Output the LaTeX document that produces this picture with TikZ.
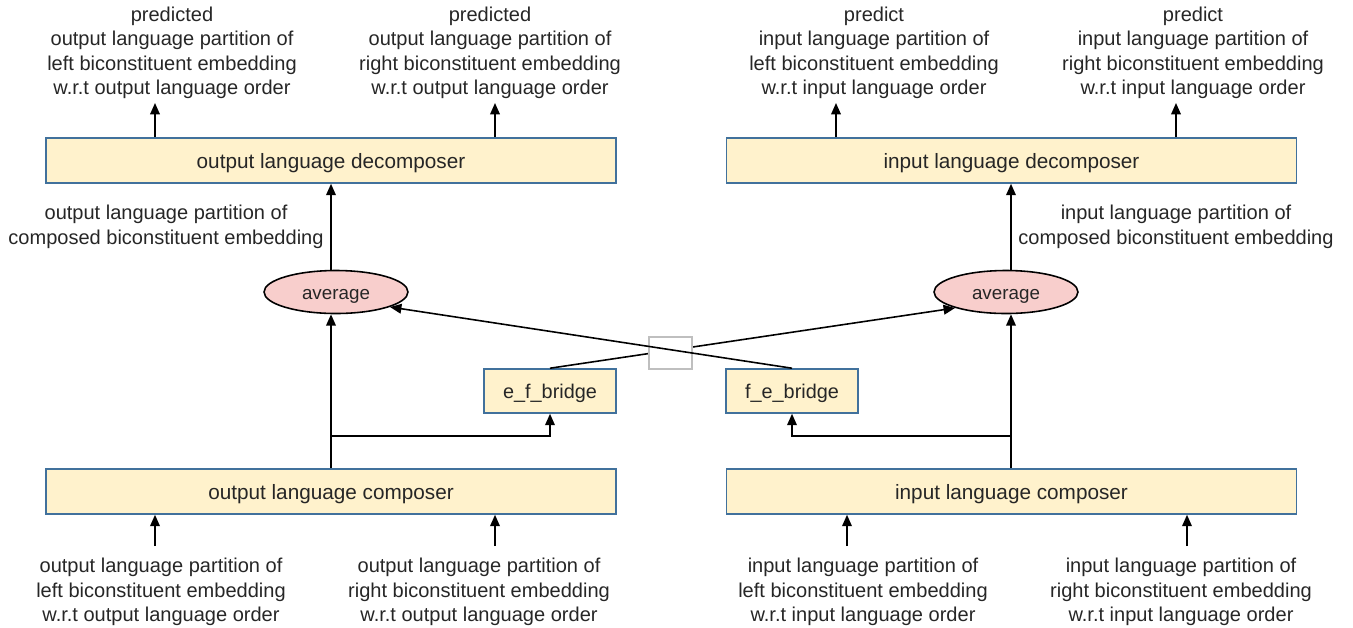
\documentclass[tikz,border=0pt]{standalone}
\usepackage{fontspec}
\setmainfont{Liberation Sans}
\usetikzlibrary{arrows.meta,shapes.geometric}
\definecolor{boxfill}{HTML}{FFF2CC}
\definecolor{boxline}{HTML}{41719C}
\definecolor{avgfill}{HTML}{F8CECC}
\definecolor{txt}{HTML}{262626}
\tikzset{
  module/.style={draw=boxline, fill=boxfill, line width=0.9pt, inner sep=0pt,
    minimum width=11.4cm, minimum height=0.9cm, text=txt, text height=11.5pt, text depth=2.5pt,
    font=\fontsize{11.8}{13}\selectfont},
  bridge/.style={module, minimum width=2.64cm, minimum height=0.88cm, font=\fontsize{11.3}{13}\selectfont},
  avg/.style={ellipse, draw=black, fill=avgfill, line width=0.9pt, inner sep=0pt,
    minimum width=2.88cm, minimum height=0.86cm, text=txt, text height=10pt, text depth=2pt,
    font=\fontsize{10.7}{13}\selectfont},
  lbl/.style={align=center, text=txt, inner sep=0pt, font=\fontsize{11.4}{13.9}\selectfont},
  arr/.style={-{Triangle[length=6.5pt,width=5.5pt]}, line width=0.9pt, black}
}
\begin{document}
\begin{tikzpicture}[x=0.02cm,y=-0.02cm]
\useasboundingbox (0,0) rectangle (1353,627);
% modules
\node[module] (odec) at (331,160.5) {output language decomposer};
\node[module] (idec) at (1011.5,160.5) {input language decomposer};
\node[module] (ocomp) at (331,491.5) {output language composer};
\node[module] (icomp) at (1011.5,491.5) {input language composer};
\node[bridge] (efb) at (550,391) {e\_f\_bridge};
\node[bridge] (feb) at (792,391) {f\_e\_bridge};
\node[avg] (avgL) at (336,292) {average};
\node[avg] (avgR) at (1006,292) {average};
% labels top
\node[lbl] (t1) at (172,53) {predicted\\output language partition of\\left biconstituent embedding\\w.r.t output language order};
\node[lbl] (t2) at (490,53) {predicted\\output language partition of\\right biconstituent embedding\\w.r.t output language order};
\node[lbl] (t3) at (874,53) {predict\\input language partition of\\left biconstituent embedding\\w.r.t input language order};
\node[lbl] (t4) at (1193,53) {predict\\input language partition of\\right biconstituent embedding\\w.r.t input language order};
% mid labels
\node[lbl] (m1) at (166,227) {output language partition of\\composed biconstituent embedding};
\node[lbl] (m2) at (1176,227) {input language partition of\\composed biconstituent embedding};
% bottom labels
\node[lbl] (b1) at (161,592) {output language partition of\\left biconstituent embedding\\w.r.t output language order};
\node[lbl] (b2) at (479,592) {output language partition of\\right biconstituent embedding\\w.r.t output language order};
\node[lbl] (b3) at (863,592) {input language partition of\\left biconstituent embedding\\w.r.t input language order};
\node[lbl] (b4) at (1181,592) {input language partition of\\right biconstituent embedding\\w.r.t input language order};
% top arrows
\coordinate (ta1) at (155,103);
\coordinate (ta2) at (495,103);
\coordinate (ta3) at (836,103);
\coordinate (ta4) at (1176,103);
\draw[arr] (ta1 |- odec.north) -- (ta1);
\draw[arr] (ta2 |- odec.north) -- (ta2);
\draw[arr] (ta3 |- idec.north) -- (ta3);
\draw[arr] (ta4 |- idec.north) -- (ta4);
% bottom arrows
\coordinate (ba1) at (155,546);
\coordinate (ba2) at (495,546);
\coordinate (ba3) at (847,546);
\coordinate (ba4) at (1187,546);
\draw[arr] (ba1) -- (ba1 |- ocomp.south);
\draw[arr] (ba2) -- (ba2 |- ocomp.south);
\draw[arr] (ba3) -- (ba3 |- icomp.south);
\draw[arr] (ba4) -- (ba4 |- icomp.south);
% composer to average
\coordinate (vL) at (331,0);
\coordinate (vR) at (1011,0);
\coordinate (jL) at (331,436);
\coordinate (jR) at (1011,436);
\draw[arr] (vL |- ocomp.north) -- (vL |- avgL.south);
\draw[arr] (jL) -- (jL -| efb.south) -- (efb.south);
\draw[arr] (vR |- icomp.north) -- (vR |- avgR.south);
\draw[arr] (jR) -- (jR -| feb.south) -- (feb.south);
% average to decomposer
\draw[arr] (vL |- avgL.north) -- (vL |- odec.south);
\draw[arr] (vR |- avgR.north) -- (vR |- idec.south);
% bridges crossing
\coordinate (aR) at (955,308);
\coordinate (aL) at (390,307);
\draw[arr] (efb.north) -- (aR);
\node[draw=black!25, fill=white, minimum width=0.86cm, minimum height=0.64cm, inner sep=0pt, line width=0.6pt] (gap) at (670.5,353) {};
\draw[arr] (feb.north) -- (aL);
\end{tikzpicture}
\end{document}
